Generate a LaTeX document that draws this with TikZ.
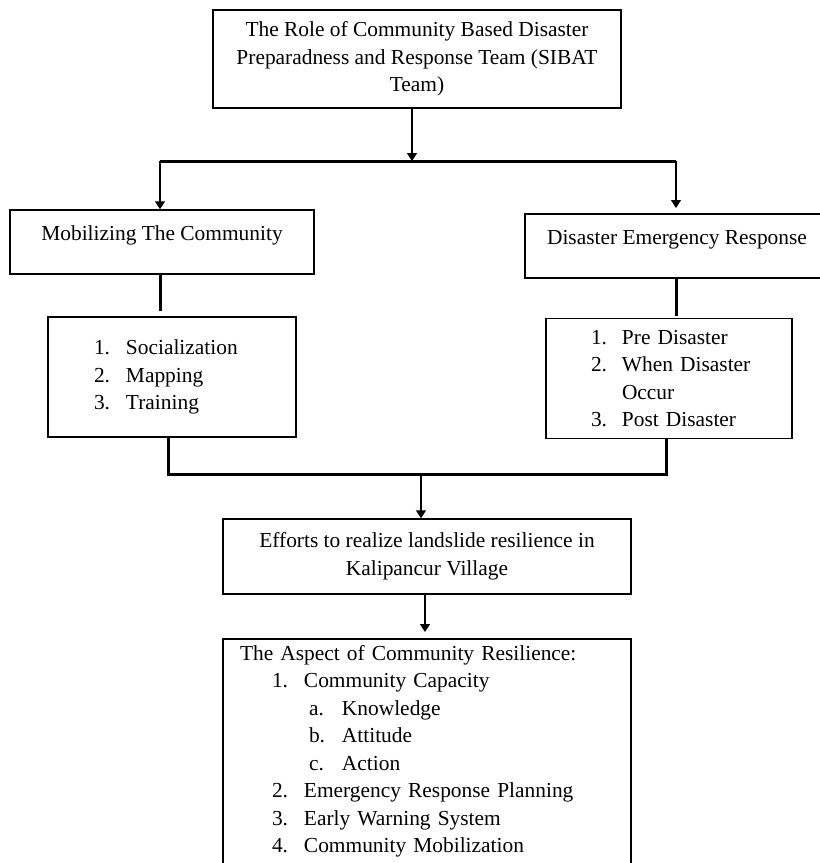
\documentclass[tikz,border=0pt]{standalone}
\usepackage{fontspec}
\setmainfont{Liberation Serif}
\usetikzlibrary{positioning, arrows.meta}
\newcommand{\numitem}[2][16pt]{\makebox[#1][l]{#2}}

\tikzset{
  frame/.style={draw, line width=0.75pt, inner sep=0pt, align=center},
  headbox/.style={frame, minimum width=152pt, minimum height=32pt, text height=15pt, text depth=17pt},
  listbox/.style={frame, align=left, inner xsep=23pt, text width=78pt, minimum height=60pt},
  link/.style={line width=0.75pt, -{Triangle[length=4pt,width=5pt]}},
  bar/.style={line width=1.5pt},
}

\begin{document}
\begin{tikzpicture}[x=0.5pt, y=-0.5pt, font=\fontsize{10.7}{13.75}\selectfont]
  \clip (0,0) rectangle (820,863);
  \node[frame, minimum width=204pt, minimum height=49pt] (role) at (417,59)
    {The Role of Community Based Disaster\\Preparadness and Response Team (SIBAT\\Team)};
  \node[headbox] (mobil) at (162,242) {Mobilizing The Community};
  \node[headbox] (emerg) at (677,246) {Disaster Emergency Response};
  \node[listbox] (mobilist) at (172,377)
    {\numitem{1.}Socialization\\ \numitem{2.}Mapping\\ \numitem{3.}Training};
  \node[listbox, inner xsep=22.5pt] (emerglist) at (669,378.5)
    {\numitem[15.5pt]{1.}\mbox{Pre Disaster}\\ \numitem[15.5pt]{2.}\mbox{When Disaster}\\
     \hspace*{15.5pt}Occur\\ \numitem[15.5pt]{3.}\mbox{Post Disaster}};
  \node[frame, minimum width=204pt, minimum height=37.5pt] (efforts) at (427,556.5)
    {Efforts to realize landslide resilience in\\Kalipancur Village};
  \node[frame, align=left, inner xsep=8.5pt, text width=187pt, minimum height=112.5pt] (aspect) at (427,751.5)
    {The Aspect of Community Resilience:\\
     \hspace*{16pt}\numitem{1.}Community Capacity\\
     \hspace*{34.5pt}\numitem[16.5pt]{a.}Knowledge\\
     \hspace*{34.5pt}\numitem[16.5pt]{b.}Attitude\\
     \hspace*{34.5pt}\numitem[16.5pt]{c.}Action\\
     \hspace*{16pt}\numitem{2.}Emergency Response Planning\\
     \hspace*{16pt}\numitem{3.}Early Warning System\\
     \hspace*{16pt}\numitem{4.}Community Mobilization};

  % connectors
  \coordinate (busM) at (412,161);
  \coordinate (busL) at (160,161);
  \coordinate (busR) at (676,161);
  \coordinate (emergTop) at (676,208);
  \coordinate (mobilEnd) at (160,311);
  \coordinate (emergEnd) at (676,316);
  \coordinate (joinL) at (168,474);
  \coordinate (joinR) at (666,474);
  \coordinate (joinM) at (421,474);
  \coordinate (aspectTop) at (425,632);

  \draw[link] (role.south -| busM) -- (busM);
  \draw[bar] (busL) -- (busR);
  \draw[link] (busL) -- (mobil.north -| busL);
  \draw[link] (busR) -- (emergTop);
  \draw[bar] (mobil.south -| mobilEnd) -- (mobilEnd);
  \draw[bar] (emerg.south -| emergEnd) -- (emergEnd);
  \draw[bar] (mobilist.south -| joinL) -- (joinL) -- (joinR) -- (emerglist.south -| joinR);
  \draw[link] (joinM) -- (efforts.north -| joinM);
  \draw[link] (efforts.south -| aspectTop) -- (aspectTop);
\end{tikzpicture}
\end{document}
